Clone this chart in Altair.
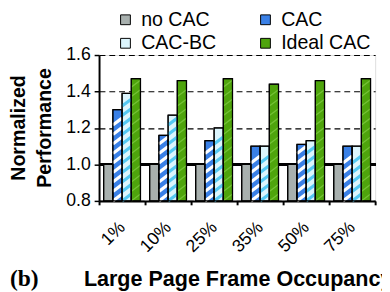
import altair as alt
import pandas as pd

categories = ["1%", "10%", "25%", "35%", "50%", "75%"]
series = ["no CAC", "CAC", "CAC-BC", "Ideal CAC"]
legend_order = ["no CAC", "CAC-BC", "CAC", "Ideal CAC"]
no_cac = [1.00, 1.00, 1.00, 1.00, 1.00, 1.00]
cac = [1.30, 1.16, 1.13, 1.10, 1.11, 1.10]
cac_bc = [1.39, 1.27, 1.20, 1.10, 1.13, 1.10]
ideal_cac = [1.47, 1.46, 1.47, 1.44, 1.46, 1.47]
colors = ["#a8b0ae", "#3a80e6", "#dcf5fd", "#4ea40c"]
stripe_colors = ["#ffffff", "#55c8f2", "#74c236"]

rows = []
for si, vals in enumerate([no_cac, cac, cac_bc, ideal_cac]):
    for gi, v in enumerate(vals):
        rows.append({"cat": categories[gi], "series": series[si], "gi": gi, "si": si, "value": v})
df = pd.DataFrame(rows)

FONT = "Liberation Sans"

base = alt.Chart(df).transform_calculate(
    xs="datum.gi + 0.1 + 0.2 * datum.si",
    xe="datum.gi + 0.3 + 0.2 * datum.si",
)

xscale = alt.Scale(domain=[0, 6], nice=False, zero=False)
yscale = alt.Scale(domain=[0.8, 1.6], nice=False, zero=False)

xaxis = alt.Axis(
    values=[0, 1, 2, 3, 4, 5, 6],
    labelExpr="['1%','10%','25%','35%','50%','75%',''][datum.value]",
    labelOffset=23.5,
    labelAngle=-45,
    labelAlign="right",
    labelBaseline="middle",
    labelPadding=20,
    labelFont=FONT,
    labelFontSize=18,
    labelColor="black",
    tickSize=4,
    tickColor="black",
    tickWidth=2,
    domainColor="black",
    domainWidth=2,
    grid=False,
    title="Large Page Frame Occupancy",
    titleFont=FONT,
    titleFontSize=22,
    titleFontWeight="bold",
    titleColor="black",
    titleAlign="left",
    titleBaseline="alphabetic",
    titleX=-16,
    titleY=86,
)

yaxis = alt.Axis(
    values=[0.8, 1.0, 1.2, 1.4, 1.6],
    format=".1f",
    labelFont=FONT,
    labelFontSize=18,
    labelColor="black",
    labelPadding=4,
    tickSize=5,
    tickColor="black",
    tickWidth=1.5,
    domainColor="black",
    domainWidth=2,
    grid=True,
    gridColor="black",
    gridDash=[6, 4],
    gridWidth=1.2,
    title=["Normalized", "Performance"],
    titleFont=FONT,
    titleFontSize=20,
    titleFontWeight="bold",
    titleColor="black",
    titleLineHeight=26,
    titleBaseline="top",
    titleAngle=-90,
    titleX=-92,
    titleY=74,
    titleAlign="center",
)

one_line = alt.Chart(df).mark_rule(color="black", strokeWidth=2.5).encode(
    y=alt.datum(1.0, scale=yscale, axis=yaxis),
)

bars = base.mark_bar(stroke="black", strokeWidth=1).encode(
    x=alt.X("xs:Q", scale=xscale, axis=xaxis),
    x2="xe:Q",
    y=alt.Y("value:Q", scale=yscale, axis=yaxis),
    y2=alt.datum(0.8),
    color=alt.Color(
        "series:N",
        scale=alt.Scale(domain=series, range=colors),
        legend=alt.Legend(
            title=None,
            values=legend_order,
            orient="none",
            legendX=17,
            legendY=-46,
            columns=2,
            columnPadding=40,
            rowPadding=4,
            symbolType="square",
            symbolSize=100,
            symbolStrokeColor="black",
            symbolStrokeWidth=1,
            symbolOpacity=1,
            labelFont=FONT,
            labelFontSize=20,
            labelColor="black",
            labelOffset=6,
        ),
    ),
)

stripe_base = base.transform_filter("datum.si >= 1").transform_calculate(
    k="sequence(0, 20)"
).transform_flatten(["k"]).transform_calculate(
    y0="0.8 + datum.k * 0.052",
    y1="0.8 + datum.k * 0.052 + 0.038",
).transform_filter("datum.y1 <= datum.value - 0.004")

stripes_wide = stripe_base.transform_filter("datum.si <= 2").mark_rule(strokeWidth=3.2).encode(
    x=alt.X("xs:Q", scale=xscale, axis=xaxis),
    x2="xe:Q",
    y=alt.Y("y0:Q", scale=yscale, axis=yaxis),
    y2="y1:Q",
    stroke=alt.Stroke("series:N", scale=alt.Scale(domain=series[1:], range=stripe_colors), legend=None),
)

stripes_thin = stripe_base.transform_filter("datum.si == 3").mark_rule(strokeWidth=1.3, color=stripe_colors[2]).encode(
    x=alt.X("xs:Q", scale=xscale, axis=xaxis),
    x2="xe:Q",
    y=alt.Y("y0:Q", scale=yscale, axis=yaxis),
    y2="y1:Q",
)

outlines = base.mark_bar(fillOpacity=0, stroke="black", strokeWidth=1.3).encode(
    x=alt.X("xs:Q", scale=xscale, axis=xaxis),
    x2="xe:Q",
    y=alt.Y("value:Q", scale=yscale, axis=yaxis),
    y2=alt.datum(0.8),
)

chart = alt.layer(one_line, bars, stripes_wide, stripes_thin, outlines).properties(
    width=282,
    height=149,
    autosize=alt.AutoSizeParams(type="none"),
    padding={"left": 93, "top": 45, "right": 7, "bottom": 90},
    title=alt.TitleParams(
        "(b)",
        orient="bottom",
        anchor="start",
        frame="bounds",
        font="Liberation Serif",
        fontSize=24,
        fontWeight="bold",
        color="black",
        baseline="alphabetic",
        dx=1,
        dy=-7,
    ),
).configure_view(stroke="black", strokeWidth=1.5).configure(background="white")

chart.save("out.html", embed_options={"renderer": "svg", "actions": False})
